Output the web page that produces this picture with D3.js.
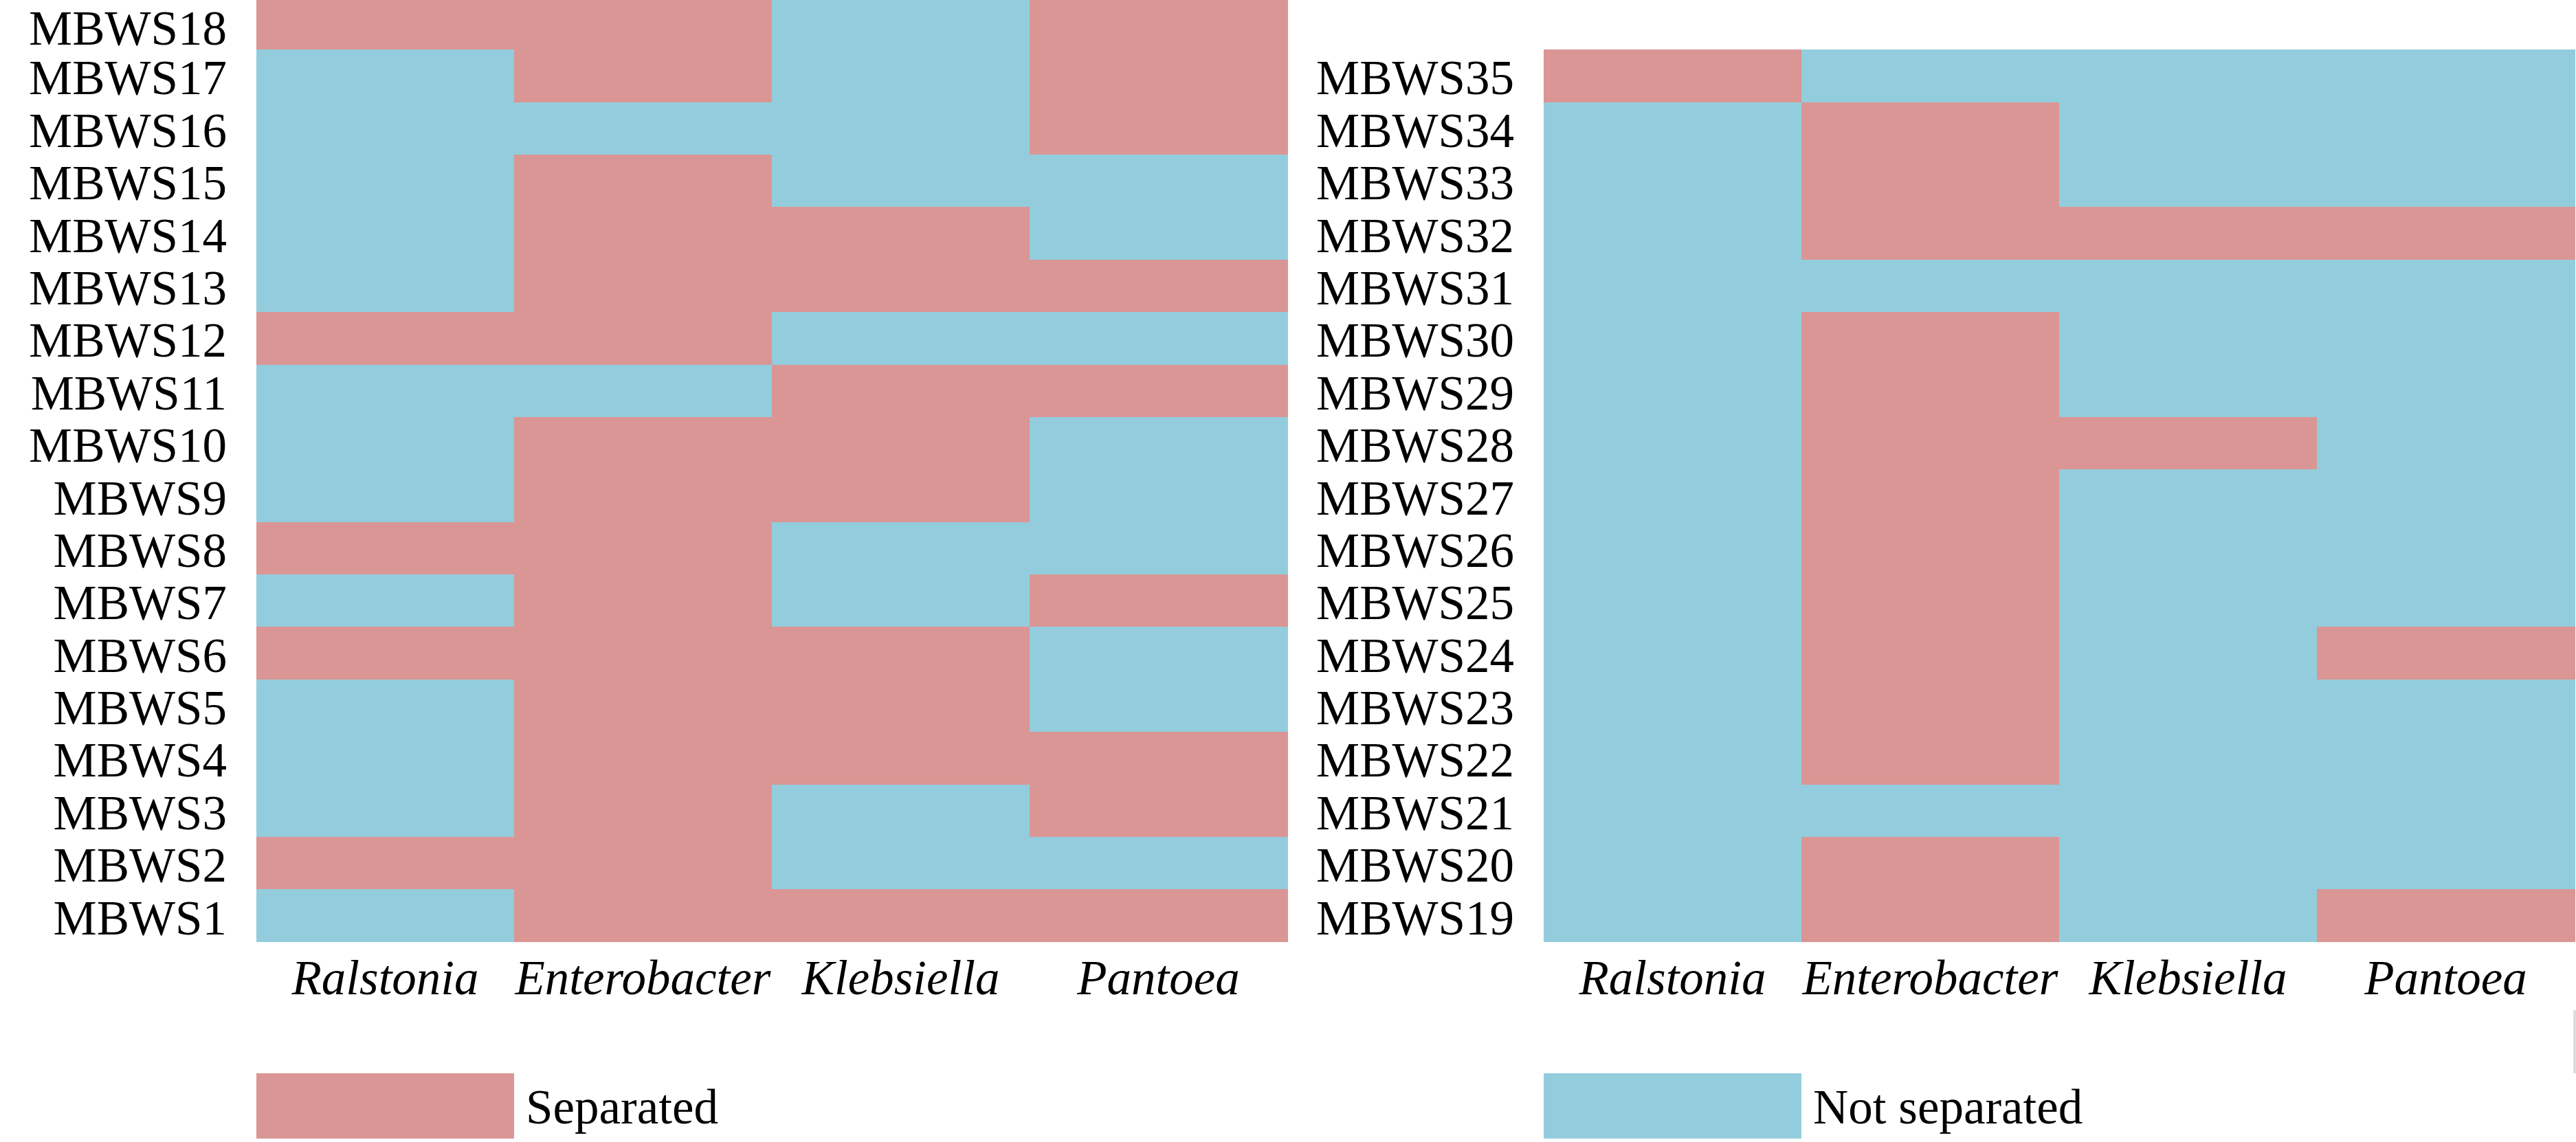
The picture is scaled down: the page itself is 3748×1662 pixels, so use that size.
<!DOCTYPE html>
<html>
<head>
<meta charset="utf-8">
<script src="https://cdn.jsdelivr.net/npm/d3@7"></script>
<style>
  html, body { margin: 0; padding: 0; background: #ffffff; }
  svg { display: block; }
  text { font-family: "Liberation Serif", "Times New Roman", serif; fill: #000; }
</style>
</head>
<body>
<svg id="chart" width="3748" height="1662"></svg>
<script>
// ---- data ----
const genera = ["Ralstonia", "Enterobacter", "Klebsiella", "Pantoea"];
const statusLabels = ["Separated", "Not separated"];

// 1 = Separated, 0 = Not separated ; columns follow `genera`
const leftStrains = ["MBWS18","MBWS17","MBWS16","MBWS15","MBWS14","MBWS13","MBWS12","MBWS11","MBWS10",
                     "MBWS9","MBWS8","MBWS7","MBWS6","MBWS5","MBWS4","MBWS3","MBWS2","MBWS1"];
const leftValues = [
  [1,1,0,1], // MBWS18
  [0,1,0,1], // MBWS17
  [0,0,0,1], // MBWS16
  [0,1,0,0], // MBWS15
  [0,1,1,0], // MBWS14
  [0,1,1,1], // MBWS13
  [1,1,0,0], // MBWS12
  [0,0,1,1], // MBWS11
  [0,1,1,0], // MBWS10
  [0,1,1,0], // MBWS9
  [1,1,0,0], // MBWS8
  [0,1,0,1], // MBWS7
  [1,1,1,0], // MBWS6
  [0,1,1,0], // MBWS5
  [0,1,1,1], // MBWS4
  [0,1,0,1], // MBWS3
  [1,1,0,0], // MBWS2
  [0,1,1,1]  // MBWS1
];

const rightStrains = ["MBWS35","MBWS34","MBWS33","MBWS32","MBWS31","MBWS30","MBWS29","MBWS28","MBWS27",
                      "MBWS26","MBWS25","MBWS24","MBWS23","MBWS22","MBWS21","MBWS20","MBWS19"];
const rightValues = [
  [1,0,0,0], // MBWS35
  [0,1,0,0], // MBWS34
  [0,1,0,0], // MBWS33
  [0,1,1,1], // MBWS32
  [0,0,0,0], // MBWS31
  [0,1,0,0], // MBWS30
  [0,1,0,0], // MBWS29
  [0,1,1,0], // MBWS28
  [0,1,0,0], // MBWS27
  [0,1,0,0], // MBWS26
  [0,1,0,0], // MBWS25
  [0,1,0,1], // MBWS24
  [0,1,0,0], // MBWS23
  [0,1,0,0], // MBWS22
  [0,0,0,0], // MBWS21
  [0,1,0,0], // MBWS20
  [0,1,0,1]  // MBWS19
];

// ---- styling ----
const PINK = "#D99694";
const BLUE = "#93CDDD";
const FONT = 71;
const color = d3.scaleOrdinal().domain([1, 0]).range([PINK, BLUE]);

const svg = d3.select("#chart");
const bottom = 1370.7;
const rowH = (bottom - 72.3) / 17;

function panel(strains, values, x0) {
  const x = d3.scaleBand().domain(genera).range([x0, x0 + 1500]).padding(0);
  const y = d3.scaleBand().domain(strains).range([bottom - rowH * strains.length, bottom]).padding(0);

  const cells = [];
  strains.forEach((s, i) => genera.forEach((g, j) => cells.push({ s, g, v: values[i][j] })));

  svg.append("g").selectAll("rect").data(cells).join("rect")
    .attr("x", d => x(d.g))
    .attr("y", d => y(d.s))
    .attr("width", x.bandwidth() + 0.6)
    .attr("height", y.bandwidth() + 0.6)
    .attr("fill", d => color(d.v))
    .attr("shape-rendering", "crispEdges");

  // row labels
  const ya = svg.append("g")
    .attr("transform", `translate(${x0},0)`)
    .call(d3.axisLeft(y).tickSize(0).tickPadding(43));
  ya.select(".domain").remove();
  ya.selectAll("text")
    .attr("dy", d => (y(d) < 0 ? 31 : 27) + "px")
    .style("font-family", '"Liberation Serif", "Times New Roman", serif')
    .style("font-size", FONT + "px")
    .attr("fill", "#000");

  // column labels
  const xa = svg.append("g")
    .attr("transform", `translate(0,${bottom})`)
    .call(d3.axisBottom(x).tickSize(0).tickPadding(0));
  xa.select(".domain").remove();
  xa.selectAll("text")
    .attr("y", 76.3)
    .attr("dy", 0)
    .style("font-family", '"Liberation Serif", "Times New Roman", serif')
    .style("font-size", FONT + "px")
    .style("font-style", "italic")
    .attr("fill", "#000");

  return x;
}

const xL = panel(leftStrains, leftValues, 373);
const xR = panel(rightStrains, rightValues, 2246);

// ---- legend ----
const legend = [
  { label: statusLabels[0], v: 1, x: xL },
  { label: statusLabels[1], v: 0, x: xR }
];
const lg = svg.append("g").selectAll("g").data(legend).join("g");
lg.append("rect")
  .attr("x", d => d.x(genera[0]))
  .attr("y", 1562)
  .attr("width", d => d.x.bandwidth())
  .attr("height", 95)
  .attr("fill", d => color(d.v));
lg.append("text")
  .attr("x", d => d.x(genera[0]) + d.x.bandwidth() + 17)
  .attr("y", 1635)
  .style("font-size", FONT + "px")
  .text(d => d.label);

// faint edge mark at right border
svg.append("rect")
  .attr("x", 3744).attr("y", 1470).attr("width", 4).attr("height", 92)
  .attr("fill", "#dcdcdc");
</script>
</body>
</html>
